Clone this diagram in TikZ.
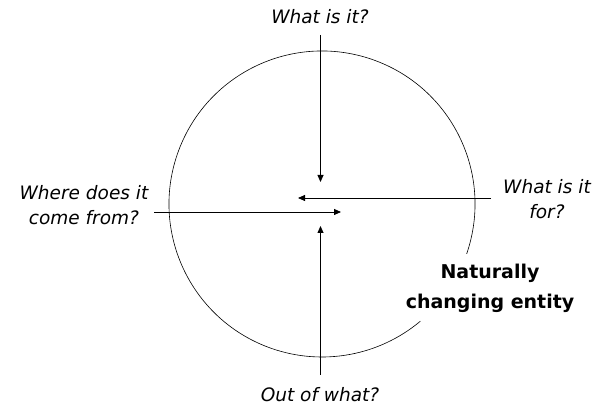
\documentclass[tikz,border=0pt]{standalone}
\usepackage{fontspec}
\setmainfont{DejaVu Sans}
\usetikzlibrary{arrows.meta,positioning}

\begin{document}
\begin{tikzpicture}[x=1pt,y=1pt,
    every node/.style={align=center,inner sep=0pt},
    question/.style={font=\fontsize{18.5}{25}\selectfont\itshape},
    entity/.style={font=\fontsize{19}{30}\selectfont\bfseries},
    probe/.style={line width=0.8pt,-{Triangle[length=7pt,width=6pt]}}]
    \useasboundingbox (0,0) rectangle (601,406);
    % the naturally changing thing, open where its label sits
    \coordinate (centre) at (322,202);
    \draw[line width=0.6pt] (centre) ++(-19:153) arc[start angle=-19,end angle=310,radius=153];
    % questions round the circle
    \node[question] (what)  at (320,389) {What is it?};
    \node[question] (outof) at (320,11)  {Out of what?};
    \node[question] (where) at (84,201)  {Where does it\\come from?};
    \node[question] (for)   at (547,207) {What is it\\for?};
    \node[entity]   (thing) at (490,118) {Naturally\\changing entity};
    % ends and tips of the arrows
    \coordinate (topend)   at (320.5,371);
    \coordinate (toptip)   at (320.5,224);
    \coordinate (botend)   at (320.5,31);
    \coordinate (bottip)   at (320.5,180);
    \coordinate (leftend)  at (154,194);
    \coordinate (lefttip)  at (341,194);
    \coordinate (rightend) at (491,208);
    \coordinate (righttip) at (298,208);
    \foreach \a/\b in {topend/toptip,botend/bottip,leftend/lefttip,rightend/righttip}{%
       \draw[probe] (\a) -- (\b);
    }
\end{tikzpicture}
\end{document}
